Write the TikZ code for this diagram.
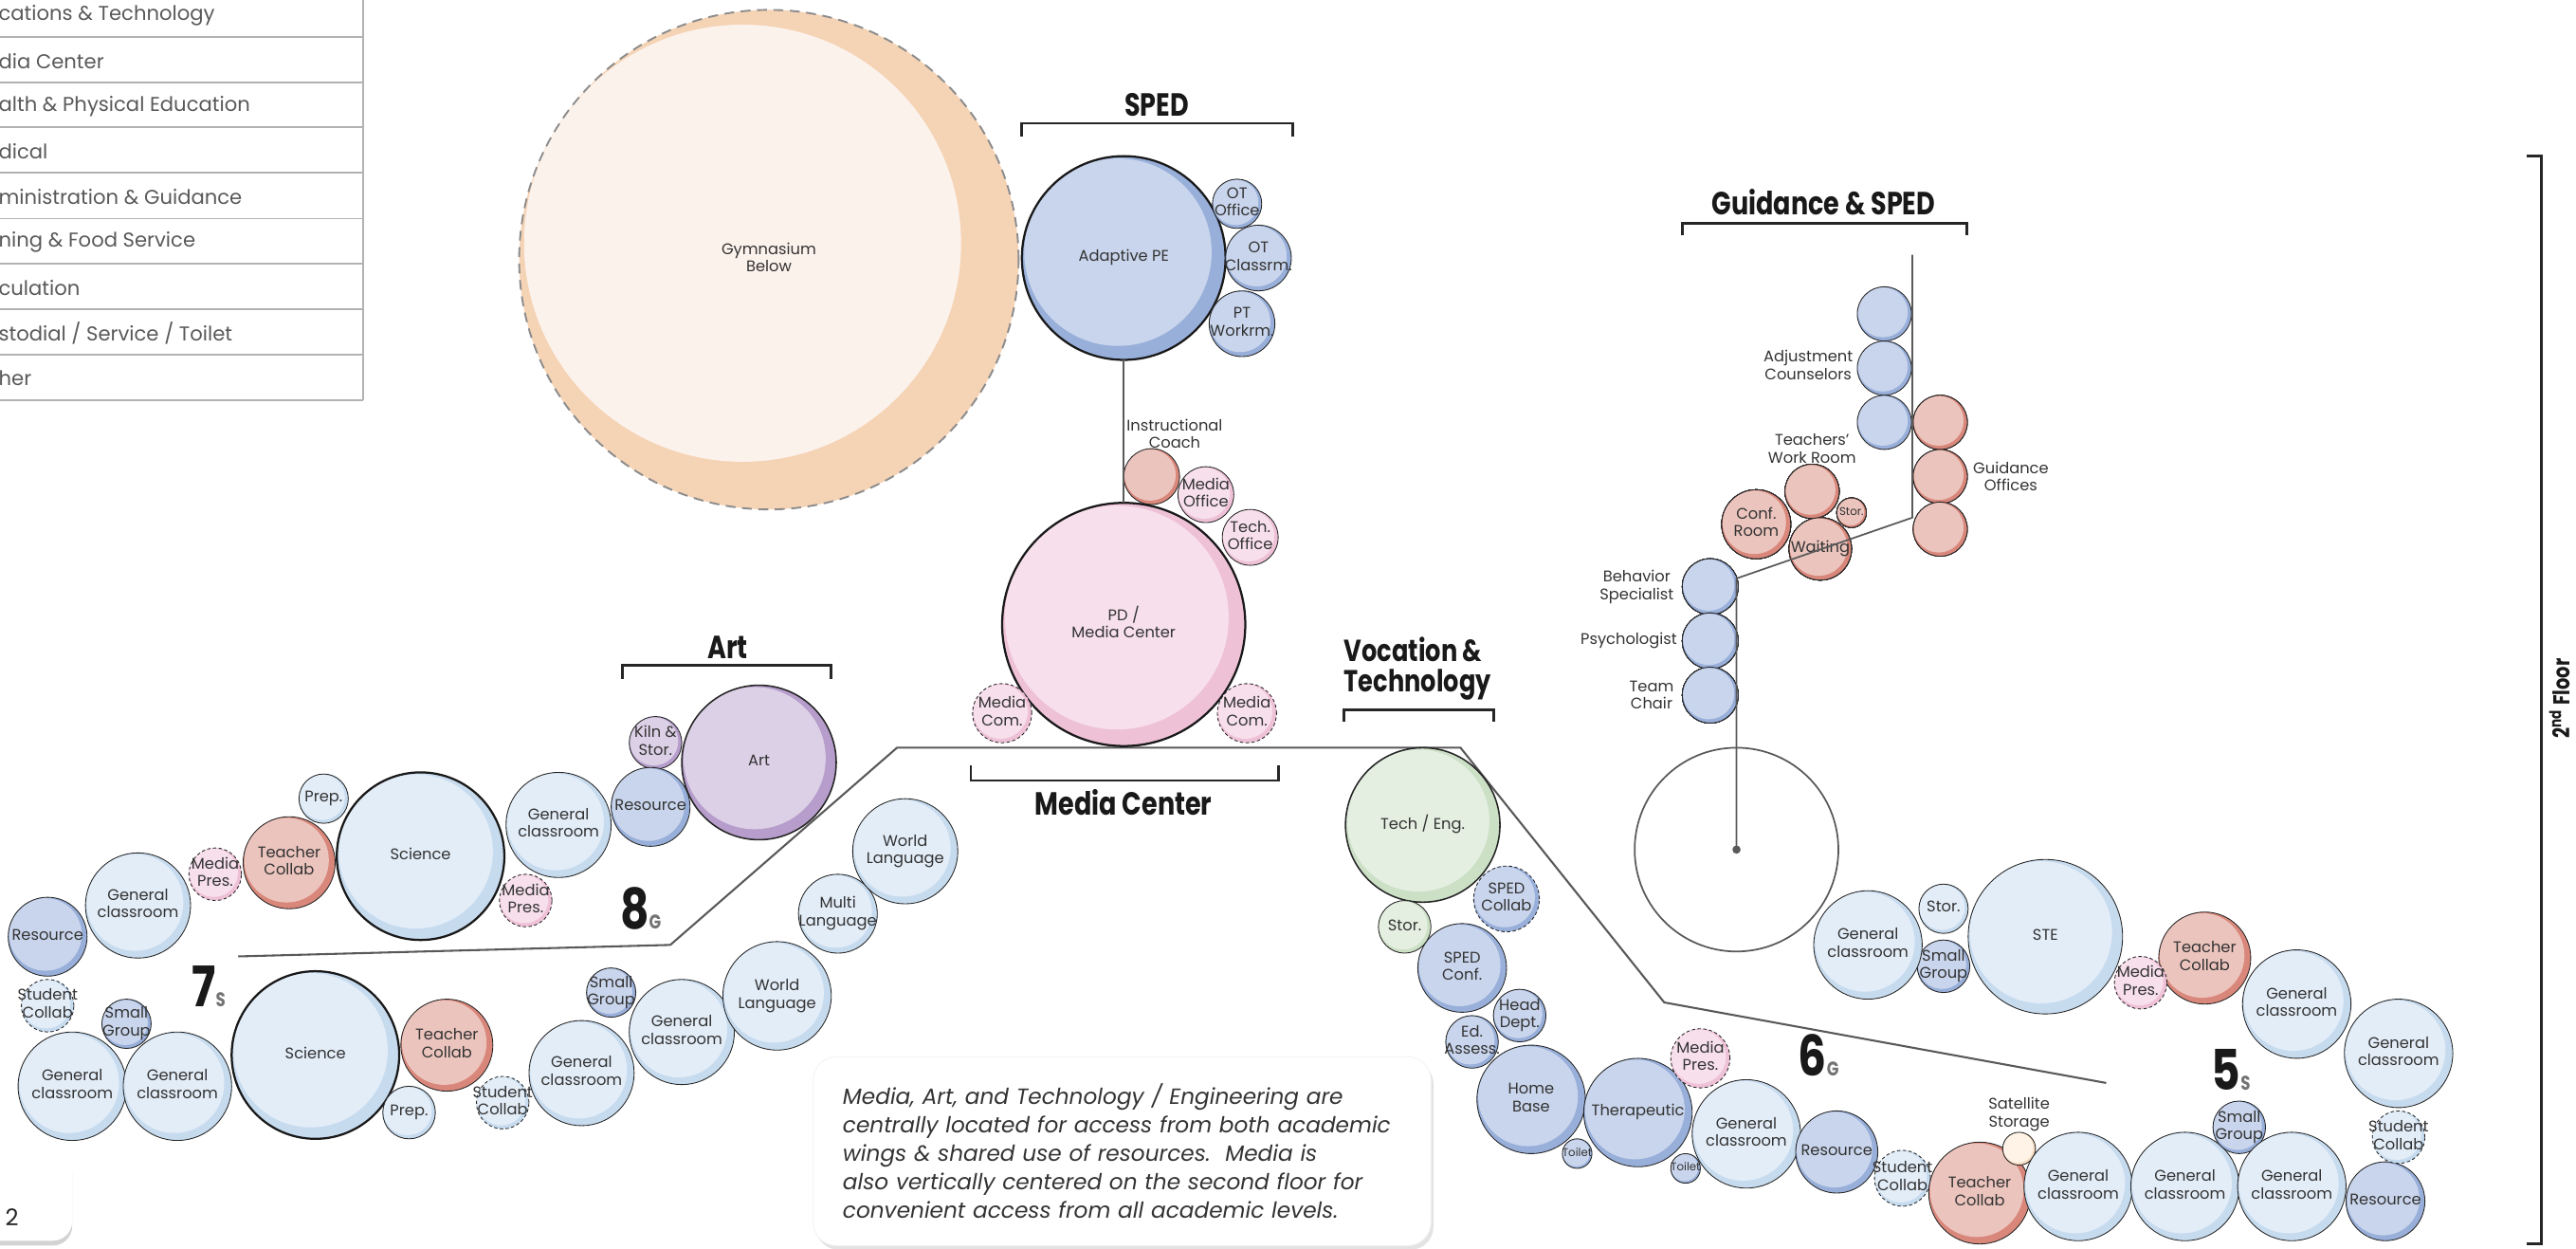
\documentclass[tikz,border=0pt]{standalone}
\usepackage{fontspec}
\setmainfont{Poppins}
\newfontfamily\headfont[FakeStretch=0.8]{Poppins}
\usepackage{xcolor}
\usepackage{tikz}
\usetikzlibrary{positioning,shadows}

% room colour families: light face and darker crescent
\definecolor{clslt}{HTML}{E3EDF8}\definecolor{clsdk}{HTML}{C7DBEF}
\definecolor{reslt}{HTML}{C9D5EC}\definecolor{resdk}{HTML}{98AFDA}
\definecolor{tchlt}{HTML}{EBC4BD}\definecolor{tchdk}{HTML}{D9877A}
\definecolor{medlt}{HTML}{F7E0EC}\definecolor{meddk}{HTML}{EEC1D7}
\definecolor{artlt}{HTML}{DCD0E6}\definecolor{artdk}{HTML}{B69DCB}
\definecolor{teclt}{HTML}{E4EFE1}\definecolor{tecdk}{HTML}{CCE0C6}
\definecolor{stolt}{HTML}{FEF3E6}\definecolor{stodk}{HTML}{F8DBBE}
\definecolor{gymlt}{HTML}{FCF2EC}\definecolor{gymdk}{HTML}{F5D3B5}

\renewcommand{\arraystretch}{0.85}

% \room[opts]{name}{x}{y}{radius}{colour family}{label}
\newcommand{\room}[7][]{%
  \fill[#6dk] (#3,#4) circle[radius=#5];
  \begin{scope}
    \clip (#3,#4) circle[radius=#5];
    \fill[#6lt] ({#3-0.057*#5},{#4-0.057*#5}) circle[radius={0.92*#5}];
  \end{scope}
  \node[room, minimum size={2*#5*1pt}, #1] (#2) at (#3,#4)
    {\makebox[0pt]{\begin{tabular}{@{}c@{}}#7\end{tabular}}};
}
\newcommand{\grade}[1]{{\fontsize{12}{12}\selectfont\color{black!55}#1}}

\begin{document}
\begin{tikzpicture}[x=1pt, y=-1pt,
    room/.style={circle, draw=black!85, line width=0.5pt, inner sep=0pt, outer sep=0pt,
      text=black!80, font=\fontsize{9.4}{12.6}\selectfont},
    main/.style={line width=1.3pt, draw=black!90},
    semi/.style={line width=0.9pt},
    open/.style={dash pattern=on 2pt off 1.5pt},
    small/.style={font=\fontsize{6.8}{8}\selectfont},
    tag/.style={inner sep=0pt, align=center, text=black!80, font=\fontsize{9.4}{10.8}\selectfont},
    head/.style={inner sep=0pt, text=black!90, font=\headfont\bfseries\fontsize{19.5}{19.5}\selectfont},
    grade/.style={inner sep=0pt, text=black!90, font=\headfont\bfseries\fontsize{34}{34}\selectfont},
    brk/.style={line width=1.6pt, black!85},
    link/.style={line width=1pt, black!65},
    outline/.style={line width=1.2pt, black!65},
    legrule/.style={line width=1pt, black!30},
    legtext/.style={anchor=west, inner sep=0pt, text=black!65, font=\fontsize{12.2}{12.2}\selectfont},
    notebox/.style={fill=white, draw=black!6, rounded corners=14pt,
      drop shadow={shadow xshift=1.5pt, shadow yshift=-2.5pt, opacity=0.22},
      minimum height=115pt, text width=340pt, inner xsep=18pt,
      align=left, text=black!80, font=\itshape\fontsize{13.4}{17.3}\selectfont}]
  \useasboundingbox (0,0) rectangle (1568,760);

  % Page corner
  \path[fill=white, rounded corners=12pt, drop shadow={shadow xshift=0pt, shadow yshift=-3pt, opacity=0.35}]
    (-60,700) rectangle (44,755);

  % Legend
  \foreach \y in {22.5,50,77.5,105,133,160.5,188,216,243.5}
    \draw[legrule] (-2,\y) -- (221,\y);
  \draw[legrule] (221,-2) -- (221,243.5);
  \foreach \t [count=\i] in {cations \& Technology, dia Center, alth \& Physical Education,
      dical, ministration \& Guidance, ning \& Food Service, culation,
      stodial / Service / Toilet, her}
    \node[legtext] (leg\i) at (-1,{9.5+27.6*(\i-1)}) {\t};

  % Gymnasium below
  \fill[gymdk] (468,158) circle[radius=152];
  \begin{scope}
    \clip (468,158) circle[radius=152];
    \fill[gymlt] (452,148) circle[radius=133];
  \end{scope}
  \node[room, draw=black!45, line width=1.1pt, dash pattern=on 6pt off 4pt,
    minimum size=304pt] (gym) at (468,158)
    {\makebox[0pt]{\begin{tabular}{@{}c@{}}Gymnasium\\Below\end{tabular}}};

  % Floor outline
  \draw[outline] (145,582) -- (408,575) -- (546,455) -- (889,455) -- (1013,610) -- (1282,659);

  % SPED
  \node[head] (spedhead) at (704,64) {SPED};
  \draw[brk] (622,83) -- (622,75) -- (787,75) -- (787,83);
  \room[main]{ape}{684}{157}{62}{res}{Adaptive PE}
  \room{otoff}{753}{124}{15}{res}{OT\\Office}
  \room{otcls}{766}{157}{20}{res}{OT\\Classrm.}
  \room{ptw}{756}{197}{20}{res}{PT\\Workrm.}

  % Media center
  \room{coach}{701}{290}{17}{tch}{}
  \room{medoff}{734}{301}{17}{med}{Media\\Office}
  \room{techoff}{761}{327}{17}{med}{Tech.\\Office}
  \room[main]{pd}{684}{380}{74}{med}{PD /\\Media Center}
  \room[open]{comL}{610}{434}{18}{med}{Media\\Com.}
  \room[open]{comR}{759}{434}{18}{med}{Media\\Com.}
  \draw[link] (ape) -- (pd);
  \node[tag] (coachlbl) at (715,264) {Instructional\\Coach};
  \draw[brk] (591,466) -- (591,475) -- (778,475) -- (778,466);
  \node[head] (medhead) at (684,488) {Media Center};

  % Art
  \node[head] (arthead) at (443,394) {Art};
  \draw[brk] (379,413) -- (379,405) -- (506,405) -- (506,413);
  \room[semi]{art}{462}{464}{47}{art}{Art}
  \room{kiln}{399}{452}{16}{art}{Kiln \&\\Stor.}

  % Grade 8 wing
  \room{res8b}{396}{491}{24}{res}{Resource}
  \room{gen8b}{340}{502}{32}{cls}{General\\classroom}
  \room[open]{pres8b}{320}{548}{16}{med}{Media\\Pres.}
  \room[main]{sci8}{256}{521}{51}{cls}{Science}
  \room{prep8}{197}{486}{15}{cls}{Prep.}
  \room{tch8}{176}{525}{28}{tch}{Teacher\\Collab}
  \room[open]{pres8a}{131}{532}{16}{med}{Media\\Pres.}
  \room{gen8a}{84}{551}{32}{cls}{General\\classroom}
  \room{res8a}{29}{570}{24}{res}{Resource}
  \node[grade] (g8) at (390,553) {8\grade{G}};

  % Grade 7 wing
  \room[open]{col7a}{29}{612}{16}{cls}{Student\\Collab}
  \room{sg7a}{77}{623}{15}{res}{Small\\Group}
  \room{gen7a}{44}{661}{33}{cls}{General\\classroom}
  \room{gen7b}{108}{661}{33}{cls}{General\\classroom}
  \room[main]{sci7}{192}{642}{51}{cls}{Science}
  \room{tch7}{272}{636}{28}{tch}{Teacher\\Collab}
  \room{prep7}{249}{677}{16}{cls}{Prep.}
  \room[open]{col7b}{306}{671}{16}{cls}{Student\\Collab}
  \room{gen7c}{354}{653}{32}{cls}{General\\classroom}
  \room{sg7b}{372}{604}{15}{res}{Small\\Group}
  \room{gen7d}{415}{628}{32}{cls}{General\\classroom}
  \room{wl7a}{473}{606}{33}{cls}{World\\Language}
  \room{ml7}{510}{556}{24}{cls}{Multi\\Language}
  \room{wl7b}{551}{518}{32}{cls}{World\\Language}
  \node[grade] (g7) at (127,600) {7\grade{S}};

  % Vocation & technology
  \node[head, align=left, anchor=west, font=\headfont\bfseries\fontsize{18.5}{18.5}\selectfont]
    (vochead) at (818,407) {Vocation \&\\Technology};
  \draw[brk] (818,439) -- (818,432) -- (909,432) -- (909,439);
  \room[semi]{tech}{866}{502}{47}{tec}{Tech / Eng.}
  \room[open]{spcol}{917}{547}{20}{res}{SPED\\Collab}
  \room{stor6}{855}{564}{16}{tec}{Stor.}

  % Grade 6 wing
  \room{spconf}{890}{589}{27}{res}{SPED\\Conf.}
  \room{head}{925}{618}{16}{res}{Head\\Dept.}
  \room{edas}{896}{634}{16}{res}{Ed.\\Assess.}
  \room{home}{932}{669}{33}{res}{Home\\Base}
  \room[small]{wc1}{960}{702}{9}{res}{Toilet}
  \room{ther}{997}{677}{33}{res}{Therapeutic}
  \room[small]{wc2}{1026}{711}{9}{res}{Toilet}
  \room[open]{pres6}{1035}{644}{18}{med}{Media\\Pres.}
  \room{gen6a}{1063}{690}{33}{cls}{General\\classroom}
  \room{res6}{1118}{701}{25}{res}{Resource}
  \room[open]{col6}{1158}{717}{17}{cls}{Student\\Collab}
  \room{tch6}{1205}{726}{31}{tch}{Teacher\\Collab}
  \room{sat}{1229}{699}{10}{sto}{}
  \node[tag] (satlbl) at (1229,678) {Satellite\\Storage};
  \room{gen6b}{1265}{722}{33}{cls}{General\\classroom}
  \node[grade] (g6) at (1107,642) {6\grade{G}};

  % Grade 5 wing
  \room{gen5a}{1330}{722}{33}{cls}{General\\classroom}
  \room{sg5a}{1363}{686}{16}{res}{Small\\Group}
  \room{gen5b}{1395}{722}{33}{cls}{General\\classroom}
  \room{res5}{1452}{731}{24}{res}{Resource}
  \room[open]{col5}{1460}{692}{16}{cls}{Student\\Collab}
  \room{gen5c}{1460}{641}{33}{cls}{General\\classroom}
  \room{gen5d}{1398}{611}{33}{cls}{General\\classroom}
  \room{tch5}{1342}{583}{28}{tch}{Teacher\\Collab}
  \room[open]{pres5}{1303}{598}{16}{med}{Media\\Pres.}
  \room{ste}{1245}{570}{47}{cls}{STE}
  \room{sg5b}{1183}{588}{16}{res}{Small\\Group}
  \room{stor5}{1183}{553}{15}{cls}{Stor.}
  \room{gen5e}{1137}{575}{33}{cls}{General\\classroom}
  \node[grade] (g5) at (1358,651) {5\grade{S}};

  % Guidance & SPED
  \node[head] (guidhead) at (1110,123) {Guidance \& SPED};
  \draw[brk] (1024,143) -- (1024,136) -- (1197,136) -- (1197,143);
  \node[room, draw=black!65, line width=1pt, fill=white, minimum size=124pt] (hub) at (1057,517) {};
  \foreach \n/\y in {adj1/191, adj2/224, adj3/257}
    \room{\n}{1147}{\y}{16.5}{res}{}
  \foreach \n/\y in {gdo1/257, gdo2/290, gdo3/322}
    \room{\n}{1181}{\y}{16.5}{tch}{}
  \room{twr}{1103}{299}{16.5}{tch}{}
  \room[small]{gstor}{1127}{312}{9}{tch}{Stor.}
  \room{conf}{1069}{319}{21}{tch}{Conf.\\Room}
  \room{wait}{1108}{334}{19}{tch}{Waiting}
  \foreach \n/\y in {beh/357, psy/390, team/423}
    \room{\n}{1041}{\y}{17}{res}{}
  \coordinate (gtop) at (1164,155);
  \coordinate (gknee) at (1164,315);
  \coordinate (gbend) at (1057,352);
  \draw[link] (gtop) -- (gknee) -- (gbend) -- (hub.center);
  \fill[black!65] (hub.center) circle[radius=2.5];
  \node[tag, anchor=east] (adjlbl) at (1128,222) {Adjustment\\Counselors};
  \node[tag] (gdolbl) at (1224,290) {Guidance\\Offices};
  \node[tag] (twrlbl) at (1103,273) {Teachers'\\Work Room};
  \node[tag, anchor=east] (behlbl) at (1019,357) {Behavior\\Specialist};
  \node[tag, anchor=east] (psylbl) at (1021,390) {Psychologist};
  \node[tag, anchor=east] (teamlbl) at (1019,423) {Team\\Chair};

  % Floor bracket
  \draw[brk] (1538,95) -- (1547,95) -- (1547,757) -- (1538,757);
  \node[head, rotate=90, font=\headfont\bfseries\fontsize{14}{14}\selectfont] (floor) at (1558,425)
    {2\textsuperscript{nd} Floor};

  % Note
  \node[notebox] (note) at (683,700.5) {Media, Art, and Technology / Engineering are\\
    centrally located for access from both academic\\
    wings \& shared use of resources.\ \ Media is\\
    also vertically centered on the second floor for\\
    convenient access from all academic levels.};

  % Page number
  \node[anchor=west, inner sep=0pt, text=black!85, font=\fontsize{14}{14}\selectfont] (pagenum) at (3,741) {2};
\end{tikzpicture}
\end{document}
